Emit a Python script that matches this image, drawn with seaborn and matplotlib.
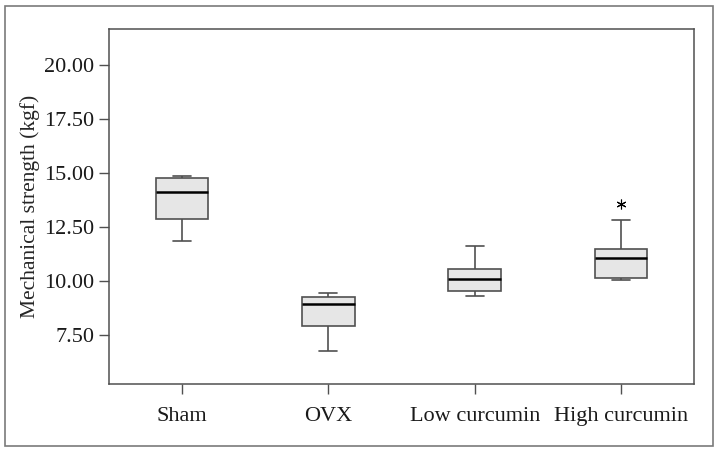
import matplotlib
matplotlib.use("Agg")
import matplotlib.pyplot as plt
from matplotlib.patches import Rectangle
import seaborn as sns
import pandas as pd

# box summary
groups = ["Sham", "OVX", "Low curcumin", "High curcumin"]
whisker_lo = [11.85, 6.73, 9.30, 10.03]
q1 = [12.86, 7.89, 9.52, 10.15]
median = [14.11, 8.93, 10.10, 11.05]
q3 = [14.79, 9.27, 10.57, 11.48]
whisker_hi = [14.88, 9.45, 11.60, 12.82]
extremes = [[], [], [], [13.57]]

yticks = [7.5, 10.0, 12.5, 15.0, 17.5, 20.0]

# sample values that give exactly these quartiles
rows = []
for i, g in enumerate(groups):
    if extremes[i]:
        vals = [whisker_lo[i], q1[i], q1[i], median[i], median[i],
                q3[i], q3[i], whisker_hi[i]] + extremes[i]
    else:
        vals = [whisker_lo[i], q1[i], median[i], q3[i], whisker_hi[i]]
    for v in vals:
        rows.append({"group": g, "value": v})
df = pd.DataFrame(rows)

sns.set_style("white")
plt.rcParams["font.family"] = ["Liberation Serif", "DejaVu Serif"]

fig = plt.figure(figsize=(7.19, 4.51), dpi=100)
ax = fig.add_axes([0.1512, 0.1479, 0.8145, 0.7885])

edge = "#505050"
sns.boxplot(
    data=df, x="group", y="value", order=groups, ax=ax,
    width=0.36, color="#e6e6e6", whis=1.5,
    linecolor=edge, linewidth=1.2,
    medianprops=dict(color="black", linewidth=1.8),
    flierprops=dict(marker=(6, 2, 0), markersize=7, markeredgewidth=0.8,
                    markerfacecolor="black", markeredgecolor="black"),
    capwidths=0.125,
)

ax.set_xlim(-0.5, 3.5)
ax.set_ylim(5.2, 21.7)
ax.set_yticks(yticks)
ax.set_yticklabels([f"{t:.2f}" for t in yticks])
ax.set_xlabel("")
ax.set_ylabel("Mechanical strength (kgf)", fontsize=15.5, labelpad=3)
ax.tick_params(axis="both", labelsize=16, direction="out", length=7,
               width=1, color=edge, colors="#1a1a1a", left=True, bottom=True)
ax.tick_params(axis="x", pad=9)
for s in ax.spines.values():
    s.set_color(edge)
    s.set_linewidth(1.1)

fig.patches.append(Rectangle((0.0074, 0.0118), 0.9843, 0.9756,
                             transform=fig.transFigure, fill=False,
                             edgecolor="#7a7a7a", linewidth=1.2))

fig.savefig("out.png", dpi=100)
